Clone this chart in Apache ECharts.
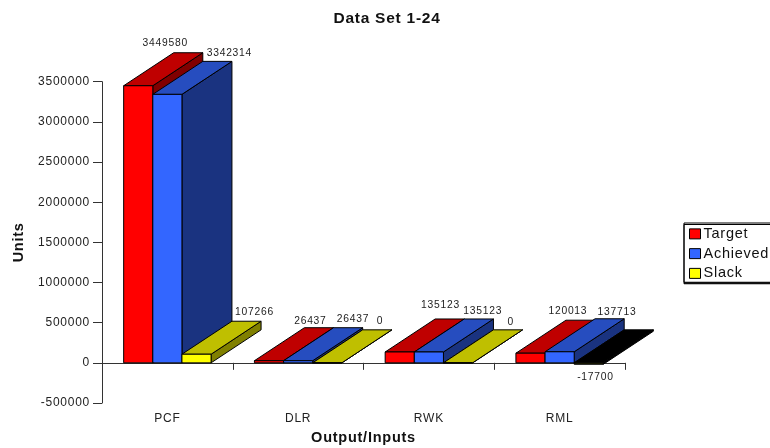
<!DOCTYPE html>
<html>
<head>
<meta charset="utf-8">
<style>html,body{margin:0;padding:0;background:#fff;overflow:hidden}#c{width:770px;height:448px}</style>
<script src="https://cdn.jsdelivr.net/npm/echarts@6/dist/echarts.min.js"></script>
</head>
<body>
<div id="c"></div>
<script>
const categories = ['PCF', 'DLR', 'RWK', 'RML'];
const target = [3449580, 26437, 135123, 120013];
const achieved = [3342314, 26437, 135123, 137713];
const slack = [107266, 0, 0, -17700];
const seriesNames = ['Target', 'Achieved', 'Slack'];
const yTicks = { min: -500000, max: 3500000, interval: 500000 };

// layout / style, separate from the data
const FONT = 'Liberation Sans, Arial, sans-serif';
const BAR_RATIO = 29.2 / 131, DEPTH_X = 50, DEPTH_Y = 33;
const faces = [
  { front: '#ff0000', top: '#bf0000', side: '#800000' },
  { front: '#3366ff', top: '#264dbf', side: '#1a3380' },
  { front: '#ffff00', top: '#bfbf00', side: '#808000' }
];
const negativeFace = { front: '#2a2a00', top: '#000000', side: '#000000' };
const labelNudges = [
  [[-23, -9.4], [-8.6, -7], [-9.3, -13.8], [-12.6, -9.4]],
  [[12, -8.5], [4.8, -8.5], [3.8, -8.2], [7.4, -7]],
  [[8, -9.4], [2.7, -8.6], [2.7, -8], [-43.3, 46]]
];

// the reference's text is slightly tracked out
const nativeGetContext = HTMLCanvasElement.prototype.getContext;
HTMLCanvasElement.prototype.getContext = function () {
  const ctx = nativeGetContext.apply(this, arguments);
  if (ctx && 'letterSpacing' in ctx) ctx.letterSpacing = '0.75px';
  return ctx;
};

function barSeries(name, values, si) {
  return {
    type: 'custom',
    name,
    itemStyle: { color: faces[si].front },
    encode: { x: 0, y: 1 },
    data: values.map((v, i) => [i, v]),
    renderItem(params, api) {
      const ci = api.value(0), v = api.value(1);
      const top = api.coord([ci, v]);
      const base = api.coord([ci, 0]);
      const band = api.size([1, 0])[0];
      const w = band * BAR_RATIO;
      const x0 = top[0] + (si - 1.5) * w;
      const x1 = x0 + w;
      const yT = Math.min(top[1], base[1]);
      const yB = Math.max(top[1], base[1]);
      const f = v < 0 ? negativeFace : faces[si];
      const line = { stroke: '#000', lineWidth: 1 };
      const poly = (points, fill) => ({
        type: 'polygon', shape: { points },
        style: Object.assign({ fill }, line)
      });
      const topY = v < 0 ? top[1] : yT;
      const n = labelNudges[si][ci];
      return {
        type: 'group',
        children: [
          poly([[x1, yT], [x1 + DEPTH_X, yT - DEPTH_Y], [x1 + DEPTH_X, yB - DEPTH_Y], [x1, yB]], f.side),
          poly([[x0, yT], [x1, yT], [x1 + DEPTH_X, yT - DEPTH_Y], [x0 + DEPTH_X, yT - DEPTH_Y]], f.top),
          poly([[x0, yT], [x1, yT], [x1, yB], [x0, yB]], f.front),
          {
            type: 'text', z2: 100,
            style: {
              x: (x0 + x1) / 2 + DEPTH_X + n[0],
              y: topY - DEPTH_Y + n[1],
              text: String(v),
              align: 'center', verticalAlign: 'middle',
              fill: '#222', font: '10.3px ' + FONT
            }
          }
        ]
      };
    }
  };
}

const chart = echarts.init(document.getElementById('c'), null, { renderer: 'canvas' });
chart.setOption({
  animation: false,
  backgroundColor: '#fff',
  textStyle: { fontFamily: FONT },
  title: {
    text: 'Data Set 1-24', left: 382, top: 5, textAlign: 'center',
    textStyle: { fontSize: 15.5, fontWeight: 'bold', color: '#111', fontFamily: FONT }
  },
  legend: {
    data: seriesNames, orient: 'vertical', left: 684, top: 223,
    padding: [3, 12, 1, 5], itemWidth: 11, itemHeight: 10, itemGap: 4, icon: 'rect',
    backgroundColor: '#fff', borderColor: '#000', borderWidth: 1,
    shadowColor: '#000', shadowBlur: 0, shadowOffsetX: 0, shadowOffsetY: 1.5,
    itemStyle: { borderColor: '#000', borderWidth: 1 },
    textStyle: { fontSize: 14.5, color: '#111', fontFamily: FONT, padding: [0, 0, 0, -2] }
  },
  grid: { left: 102, right: 145, top: 81.7, bottom: 45, outerBoundsMode: 'none', containLabel: false },
  xAxis: {
    type: 'category', data: categories,
    name: 'Output/Inputs', nameLocation: 'middle', nameGap: 27.5,
    nameTextStyle: { fontSize: 14.5, fontWeight: 'bold', color: '#111', fontFamily: FONT, align: 'center' },
    axisLine: { show: true, onZero: true, lineStyle: { color: '#333', width: 1 } },
    axisTick: { show: true, length: 7, alignWithLabel: false, lineStyle: { color: '#333' } },
    axisLabel: { margin: 9, fontSize: 12, color: '#222', fontFamily: FONT },
    splitLine: { show: false }
  },
  yAxis: {
    type: 'value', min: yTicks.min, max: yTicks.max, interval: yTicks.interval,
    name: 'Units', nameLocation: 'middle', nameGap: 75, nameRotate: 90,
    nameTextStyle: { fontSize: 14.5, fontWeight: 'bold', color: '#111', fontFamily: FONT },
    axisLine: { show: true, lineStyle: { color: '#333', width: 1 } },
    axisTick: { show: true, length: 9, lineStyle: { color: '#333' } },
    axisLabel: { margin: 12, fontSize: 12, color: '#222', fontFamily: FONT, formatter: v => String(v) },
    splitLine: { show: false }
  },
  series: [
    barSeries(seriesNames[0], target, 0),
    barSeries(seriesNames[1], achieved, 1),
    barSeries(seriesNames[2], slack, 2)
  ]
});
</script>
</body>
</html>
